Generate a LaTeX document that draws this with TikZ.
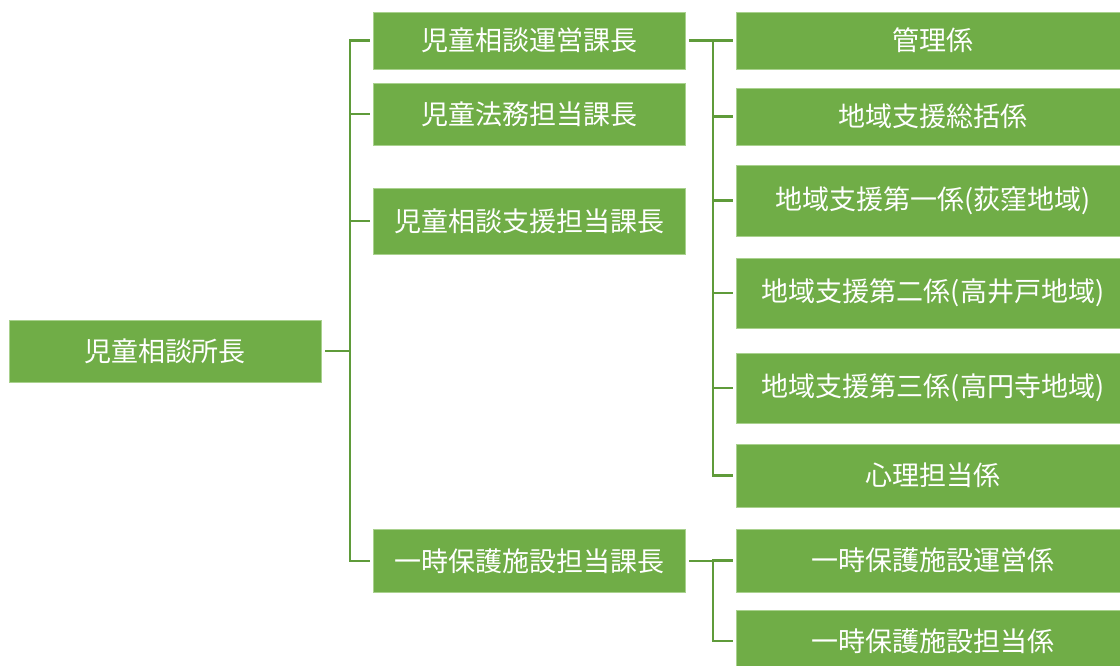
\documentclass[tikz,border=0pt]{standalone}
\usepackage{fontspec}
\setmainfont{Noto Sans CJK JP}
\definecolor{boxgreen}{HTML}{70AD47}
\definecolor{edgegreen}{HTML}{A9D18E}
\definecolor{linegreen}{HTML}{5F9B3A}
\begin{document}
\begin{tikzpicture}[x=1pt,y=-1pt,
  orgbox/.style={fill=boxgreen,draw=edgegreen,line width=0.8pt,text=white,
    font=\fontsize{27}{30}\selectfont,inner sep=0pt,anchor=center},
  w1/.style={orgbox,minimum width=312pt},
  w3/.style={orgbox,minimum width=394pt},
  link/.style={draw=linegreen,line width=2.8pt,shorten <=4pt,shorten >=3pt}]
\clip (0,0) rectangle (1120,665);
\fill[white] (0,0) rectangle (1120,665);
\node[w1,minimum height=62pt] (root) at (165,351) {児童相談所長};
\node[w1,minimum height=57pt] (b1) at (529,40.5) {児童相談運営課長};
\node[w1,minimum height=62pt] (b2) at (529,114) {児童法務担当課長};
\node[w1,minimum height=66pt] (b3) at (529,221) {児童相談支援担当課長};
\node[w1,minimum height=63pt] (b4) at (529,561) {一時保護施設担当課長};
\node[w3,minimum height=57pt] (c1) at (933,40.5) {管理係};
\node[w3,minimum height=57pt] (c2) at (933,116.5) {地域支援総括係};
\node[w3,minimum height=71pt] (c3) at (933,200.5) {地域支援第一係(荻窪地域)};
\node[w3,minimum height=70pt] (c4) at (933,293) {地域支援第二係(高井戸地域)};
\node[w3,minimum height=70pt] (c5) at (933,388) {地域支援第三係(高円寺地域)};
\node[w3,minimum height=63pt] (c6) at (933,475.5) {心理担当係};
\node[w3,minimum height=63pt] (c7) at (933,560.5) {一時保護施設運営係};
\node[w3,minimum height=62pt] (c8) at (933,641) {一時保護施設担当係};
\coordinate (j0) at (350,351);
\coordinate (j1) at (713,40.5);
\coordinate (j4) at (713,561);
\foreach \t in {b1,b2,b3,b4}{
  \draw[link] (root.east) -- (j0) |- (\t.west);
}
\foreach \t in {c1,c2,c3,c4,c5,c6}{
  \draw[link] (b1.east) -- (j1) |- (\t.west);
}
\foreach \t in {c7,c8}{
  \draw[link] (b4.east) -- (j4) |- (\t.west);
}
\end{tikzpicture}
\end{document}
